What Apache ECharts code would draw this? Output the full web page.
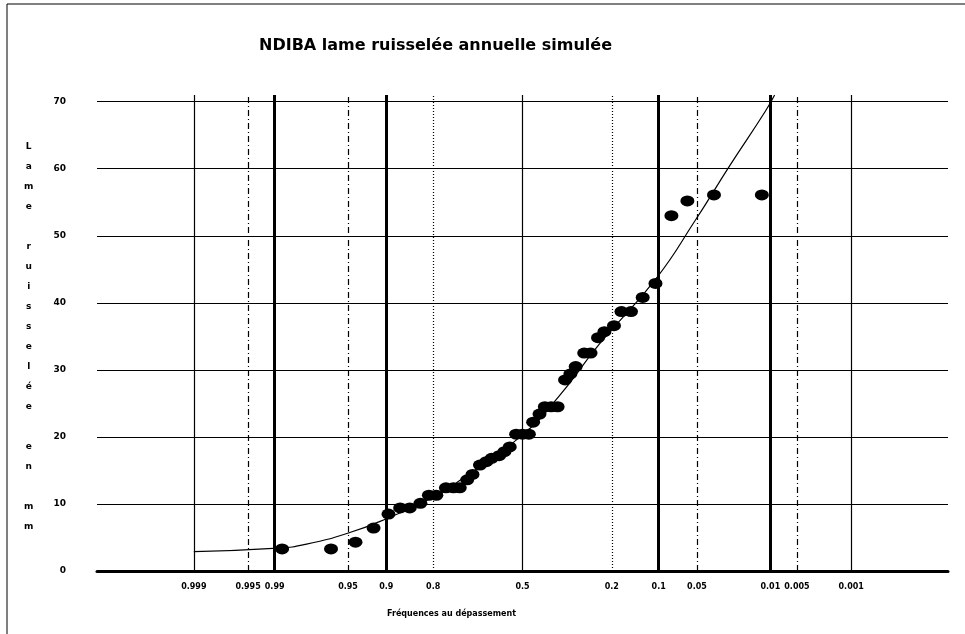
<!DOCTYPE html>
<html>
<head>
<meta charset="utf-8">
<script src="https://cdn.jsdelivr.net/npm/echarts@6/dist/echarts.min.js"></script>
<style>html,body{margin:0;padding:0;background:#fff}#c{width:965px;height:634px}</style>
</head>
<body>
<div id="c"></div>
<script>
// Exceedance-frequency tick labels of the normal probability axis
var freqTicks = [0.999, 0.995, 0.99, 0.95, 0.9, 0.8, 0.5, 0.2, 0.1, 0.05, 0.01, 0.005, 0.001];
var freqLabels = ['0.999', '0.995', '0.99', '0.95', '0.9', '0.8', '0.5', '0.2', '0.1', '0.05', '0.01', '0.005', '0.001'];
var freqStyles = ['thin', 'dashdot', 'thick', 'dashdot', 'thick', 'dotted', 'thin', 'dotted', 'thick', 'dashdot', 'thick', 'dashdot', 'thin'];
// Y axis ticks
var yTicks = [0, 10, 20, 30, 40, 50, 60, 70];
// Observed points: reduced normal variable u and runoff (mm)
var obsU = [-2.26, -1.80, -1.57, -1.40, -1.26, -1.15, -1.06, -0.96, -0.88, -0.81, -0.72, -0.65, -0.59, -0.52, -0.47,
  -0.40, -0.34, -0.29, -0.22, -0.17, -0.12, -0.06, 0.00, 0.06, 0.10, 0.16, 0.21, 0.27, 0.33, 0.40, 0.45, 0.50,
  0.58, 0.64, 0.71, 0.77, 0.86, 0.93, 1.02, 1.13, 1.25, 1.40, 1.55, 1.80, 2.25];
var obsMM = [3.3, 3.3, 4.3, 6.4, 8.5, 9.4, 9.4, 10.1, 11.3, 11.3, 12.4, 12.4, 12.4, 13.6, 14.4,
  15.8, 16.3, 16.8, 17.2, 17.8, 18.5, 20.4, 20.4, 20.4, 22.2, 23.4, 24.5, 24.5, 24.5, 28.5, 29.4, 30.5,
  32.5, 32.5, 34.8, 35.7, 36.6, 38.7, 38.7, 40.8, 42.9, 53.0, 55.2, 56.1, 56.1];
// Fitted curve: reduced variable u and runoff (mm)
var fitU = [-3.09, -2.30, -2.03, -1.63, -1.28, -0.84, -0.58, 0.00, 0.34, 0.72, 1.25, 1.62, 1.95, 2.28, 2.37];
var fitMM = [2.9, 3.4, 4.0, 5.7, 7.8, 11.0, 13.6, 20.3, 26.0, 33.8, 43.5, 52.2, 60.5, 68.5, 71.0];

function normInv(p) {
  var a = [-3.969683028665376e+01, 2.209460984245205e+02, -2.759285104469687e+02, 1.383577518672690e+02, -3.066479806614716e+01, 2.506628277459239e+00];
  var b = [-5.447609879822406e+01, 1.615858368580409e+02, -1.556989798598866e+02, 6.680131188771972e+01, -1.328068155288572e+01];
  var c = [-7.784894002430293e-03, -3.223964580411365e-01, -2.400758277161838e+00, -2.549732539343734e+00, 4.374664141464968e+00, 2.938163982698783e+00];
  var d = [7.784695709041462e-03, 3.224671290700398e-01, 2.445134137142996e+00, 3.754408661907416e+00];
  var pl = 0.02425, q, r;
  if (p < pl) { q = Math.sqrt(-2 * Math.log(p)); return (((((c[0]*q+c[1])*q+c[2])*q+c[3])*q+c[4])*q+c[5]) / ((((d[0]*q+d[1])*q+d[2])*q+d[3])*q+1); }
  if (p > 1 - pl) { q = Math.sqrt(-2 * Math.log(1 - p)); return -(((((c[0]*q+c[1])*q+c[2])*q+c[3])*q+c[4])*q+c[5]) / ((((d[0]*q+d[1])*q+d[2])*q+d[3])*q+1); }
  q = p - 0.5; r = q * q;
  return (((((a[0]*r+a[1])*r+a[2])*r+a[3])*r+a[4])*r+a[5])*q / (((((b[0]*r+b[1])*r+b[2])*r+b[3])*r+b[4])*r+1);
}

var styleMap = {
  thin: { width: 1.2, type: 'solid' },
  thick: { width: 3, type: 'solid' },
  dashdot: { width: 1.2, type: [6, 3, 1, 3] },
  dotted: { width: 1.2, type: [1, 2] }
};

var vLines = freqTicks.map(function (p, i) {
  var s = styleMap[freqStyles[i]];
  return {
    xAxis: normInv(1 - p),
    lineStyle: { color: '#000', width: s.width, type: s.type },
    label: { show: true, position: 'start', formatter: freqLabels[i], distance: 12,
      color: '#000', fontSize: 8, fontWeight: 'bold', fontFamily: 'DejaVu Sans' }
  };
});
var hLines = yTicks.filter(function (v) { return v > 0; }).map(function (v) { return { yAxis: v }; });

var chart = echarts.init(document.getElementById('c'), null, { renderer: 'canvas' });
chart.setOption({
  animation: false,
  backgroundColor: '#fff',
  title: {
    text: 'NDIBA lame ruisselée annuelle simulée',
    left: 254, top: 33,
    textStyle: { fontSize: 16, fontWeight: 'bold', color: '#000', fontFamily: 'DejaVu Sans' }
  },
  grid: { left: 97, right: 17, top: 95, bottom: 63 },
  xAxis: {
    type: 'value', min: -4, max: 4,
    axisLine: { show: true, lineStyle: { color: '#000', width: 3 } },
    axisTick: { show: false }, axisLabel: { show: false }, splitLine: { show: false }
  },
  yAxis: {
    type: 'value', min: 0, max: 71, interval: 10,
    axisLine: { show: false }, axisTick: { show: false }, splitLine: { show: false },
    axisLabel: { margin: 31, color: '#000', fontSize: 9, fontWeight: 'bold', fontFamily: 'DejaVu Sans',
      formatter: function (v) { return yTicks.indexOf(v) >= 0 ? String(v) : ''; } }
  },
  graphic: [
    { type: 'line', shape: { x1: 7, y1: 4, x2: 965, y2: 4 }, style: { stroke: '#000', lineWidth: 1 } },
    { type: 'line', shape: { x1: 7, y1: 4, x2: 7, y2: 634 }, style: { stroke: '#000', lineWidth: 1 } },
    { type: 'text', left: 24, top: 137,
      style: { text: 'L\na\nm\ne\n \nr\nu\ni\ns\ns\ne\nl\né\ne\n \ne\nn\n \nm\nm', fill: '#000',
        fontSize: 9, fontWeight: 'bold', fontFamily: 'DejaVu Sans', lineHeight: 20, textAlign: 'center' } },
    { type: 'text', left: 387, top: 610,
      style: { text: 'Fréquences au dépassement', fill: '#000', fontSize: 8, fontWeight: 'bold', fontFamily: 'DejaVu Sans' } }
  ],
  series: [
    {
      type: 'line', data: [], silent: true,
      markLine: { symbol: 'none', silent: true, animation: false,
        label: { show: false },
        lineStyle: { color: '#000', width: 1.2, type: 'solid' },
        data: hLines.concat(vLines) }
    },
    {
      type: 'line', smooth: true, showSymbol: false, silent: true, clip: true,
      lineStyle: { color: '#000', width: 1.2 },
      data: fitU.map(function (u, i) { return [u, fitMM[i]]; })
    },
    {
      type: 'scatter', symbol: 'circle', symbolSize: [14, 11], silent: true,
      itemStyle: { color: '#000', opacity: 1 },
      data: obsU.map(function (u, i) { return [u, obsMM[i]]; })
    }
  ]
});
</script>
</body>
</html>
